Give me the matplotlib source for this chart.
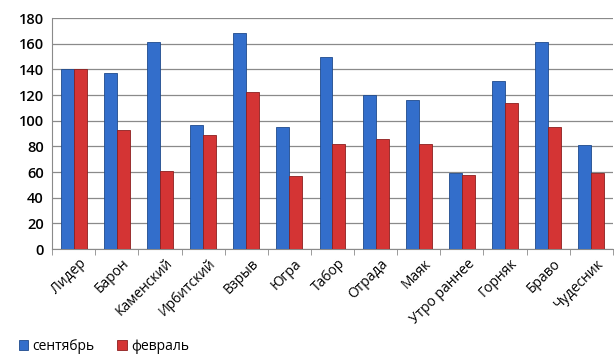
import numpy as np
import matplotlib
matplotlib.use("Agg")
import matplotlib.pyplot as plt
from matplotlib.transforms import ScaledTranslation

categories = ["Лидер", "Барон", "Каменский", "Ирбитский", "Взрыв", "Югра", "Табор",
              "Отрада", "Маяк", "Утро раннее", "Горняк", "Браво", "Чудесник"]
september = [140, 137, 161, 97, 168, 95, 150, 120, 116, 59, 131, 161, 81]
february = [140, 93, 61, 89, 122, 57, 82, 86, 82, 58, 114, 95, 59]

plt.rcParams['font.family'] = ['Open Sans', 'DejaVu Sans']

fig = plt.figure(figsize=(6.14, 3.61), dpi=100)
ax = fig.add_axes([0.085, 0.31, 0.913, 0.64])

x = np.arange(len(categories))
w = 0.3
ax.bar(x - w / 2, september, w, color="#336ecb", edgecolor="#1f4a8c", linewidth=0.6,
       label="сентябрь", zorder=3)
ax.bar(x + w / 2, february, w, color="#d43434", edgecolor="#8c1f1f", linewidth=0.6,
       label="февраль", zorder=3)

ax.set_xlim(-0.5, len(categories) - 0.5)
ax.set_ylim(0, 180)
ax.set_yticks(range(0, 181, 20))
ax.tick_params(axis='y', length=0, labelsize=10.5, pad=6)
for lbl in ax.get_yticklabels():
    lbl.set_fontweight('semibold')
ax.grid(axis='y', color="#8a8a8a", linewidth=0.9, zorder=0)

# category labels, shifted a bit right like the original
ax.set_xticks(x)
ax.set_xticklabels(categories, rotation=45, ha='right', rotation_mode='anchor', fontsize=10)
ax.tick_params(axis='x', length=0, pad=5)
shift = ScaledTranslation(5 / 100, 0, fig.dpi_scale_trans)
for lbl in ax.get_xticklabels():
    lbl.set_transform(lbl.get_transform() + shift)
ax.set_xticks(np.arange(-0.5, len(categories), 1), minor=True)
ax.tick_params(axis='x', which='minor', length=4, color="#8a8a8a")

for s in ['top', 'right']:
    ax.spines[s].set_visible(False)
ax.spines['left'].set_color("#8a8a8a")
ax.spines['bottom'].set_color("#8a8a8a")

fig.legend(loc='lower left', bbox_to_anchor=(0.01, -0.015), ncol=2, frameon=False,
           fontsize=10, handlelength=0.7, handleheight=0.7, columnspacing=1.6,
           handletextpad=0.3)

fig.savefig("out.png", dpi=100)
